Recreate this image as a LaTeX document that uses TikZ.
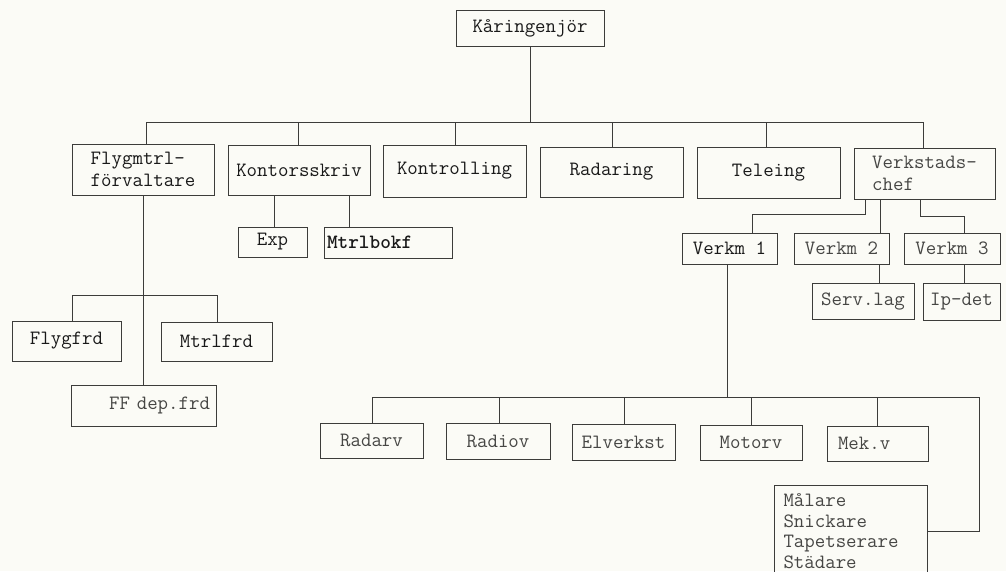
\documentclass[tikz,border=0pt]{standalone}
\definecolor{bgc}{RGB}{251,251,246}
\definecolor{linec}{RGB}{60,60,58}
\definecolor{txtd}{RGB}{25,25,25}
\definecolor{txtl}{RGB}{70,70,68}
\begin{document}
\begin{tikzpicture}[x=1pt,y=-1pt,
  box/.style={draw=linec, line width=0.9pt, inner sep=0pt, text=txtd,
              font=\ttfamily\fontsize{20.3}{21.5}\selectfont},
  light/.style={text=txtl},
  conn/.style={draw=linec, line width=0.9pt}]
\fill[bgc] (0,0) rectangle (1006,571);
\useasboundingbox (0,0) rectangle (1006,571);

% level 1
\node[box, minimum width=148pt, minimum height=36pt] (kar) at (530,28) {Kåringenjör};
% level 2
\node[box, minimum width=142pt, minimum height=51pt, align=left] (flyg) at (143,169.5) {Flygmtrl-\\förvaltare};
\node[box, minimum width=142pt, minimum height=50pt] (kont) at (299,170) {Kontorsskriv};
\node[box, minimum width=143pt, minimum height=52pt] (ktrl) at (454.5,171) {Kontrolling};
\node[box, minimum width=143pt, minimum height=50pt] (rad) at (611.5,172) {Radaring};
\node[box, minimum width=143pt, minimum height=51pt] (tele) at (768.5,172.5) {Teleing};
\node[box, light, minimum width=141pt, minimum height=51pt, align=left] (verk) at (924.5,173.5) {Verkstads-\\chef};
% under Kontorsskriv
\node[box, minimum width=69pt, minimum height=30pt] (exp) at (272.5,242) {Exp};
\node[box, inner xsep=3pt, text width=122pt, align=left, minimum height=31pt, font=\ttfamily\bfseries\fontsize{20.3}{21.5}\selectfont] (mbok) at (388,242.5) {Mtrlbokf};
% under Verkstadschef
\node[box, minimum width=95pt, minimum height=31pt] (v1) at (729.5,248.5) {Verkm 1};
\node[box, light, minimum width=95pt, minimum height=31pt] (v2) at (841.5,248.5) {Verkm 2};
\node[box, light, minimum width=96pt, minimum height=31pt] (v3) at (952,248.5) {Verkm 3};
\node[box, light, minimum width=102pt, minimum height=36pt] (serv) at (863,301) {Serv.lag};
\node[box, light, minimum width=77pt, minimum height=37pt] (ip) at (961.5,301.5) {Ip-det};
% under Verkm 1
\node[box, light, minimum width=103pt, minimum height=35pt] (radarv) at (371.5,440.5) {Radarv};
\node[box, light, minimum width=104pt, minimum height=36pt] (radiov) at (498,441) {Radiov};
\node[box, light, minimum width=103pt, minimum height=36pt] (elv) at (623.5,442) {Elverkst};
\node[box, light, minimum width=102pt, minimum height=35pt] (motorv) at (751,442.5) {Motorv};
\node[box, light, inner xsep=11pt, text width=79pt, align=left, minimum height=35pt] (mekv) at (877.5,443.5) {Mek.v};
\node[box, light, inner xsep=9pt, text width=135pt, align=left, minimum height=92pt,
      font=\ttfamily\fontsize{20.3}{20.5}\selectfont] (mal) at (851,531) {Målare\\Snickare\\Tapetserare\\Städare};
% under Flygmtrl
\node[box, minimum width=109pt, minimum height=40pt] (flygfrd) at (66.5,341) {Flygfrd};
\node[box, minimum width=111pt, minimum height=39pt] (mtrlfrd) at (216.5,341.5) {Mtrlfrd};
\node[box, light, inner xsep=6pt, text width=133pt, align=right, minimum height=41pt] (ffdep) at (143.5,405.5) {FF dep.frd};

% main bus
\coordinate (b1) at (146,122);
\coordinate (b2) at (298,122);
\coordinate (b3) at (455,122);
\coordinate (b4) at (612,122);
\coordinate (b5) at (766,122);
\coordinate (b6) at (923,122);
\draw[conn] (b1) -- (b6);
\draw[conn] (kar.south) -- (kar.south |- b1);
\foreach \b/\n in {b1/flyg,b2/kont,b3/ktrl,b4/rad,b5/tele,b6/verk}
  \draw[conn] (\b) -- (\b |- \n.north);

% Kontorsskriv children
\coordinate (k1) at (274,211);
\coordinate (k2) at (349,211);
\draw[conn] (k1 |- kont.south) -- (k1 |- exp.north);
\draw[conn] (k2 |- kont.south) -- (k2 |- mbok.north);

% Verkstadschef children
\coordinate (vc1) at (865,214);
\coordinate (vc1b) at (752,214);
\draw[conn] (vc1 |- verk.south) -- (vc1) -- (vc1b) -- (vc1b |- v1.north);
\coordinate (vc2) at (880,214);
\draw[conn] (vc2 |- verk.south) -- (vc2 |- v2.north);
\coordinate (vc3) at (920,216);
\coordinate (vc3b) at (964,216);
\draw[conn] (vc3 |- verk.south) -- (vc3) -- (vc3b) -- (vc3b |- v3.north);
\coordinate (s1) at (879,274);
\draw[conn] (s1 |- v2.south) -- (s1 |- serv.north);
\coordinate (s2) at (964,274);
\draw[conn] (s2 |- v3.south) -- (s2 |- ip.north);

% Verkm 1 children
\coordinate (w0) at (727,397);
\coordinate (wL) at (372,397);
\coordinate (wR) at (979,397);
\coordinate (w2) at (499,397);
\coordinate (w3) at (624,397);
\coordinate (w4) at (751,397);
\coordinate (w5) at (877,397);
\draw[conn] (w0 |- v1.south) -- (w0);
\draw[conn] (wL) -- (wR) -- (wR |- mal.east) -- (mal.east);
\foreach \b/\n in {wL/radarv,w2/radiov,w3/elv,w4/motorv,w5/mekv}
  \draw[conn] (\b) -- (\b |- \n.north);

% Flygmtrl children
\coordinate (f0) at (143,295);
\coordinate (fL) at (72,295);
\coordinate (fR) at (217,295);
\draw[conn] (f0 |- flyg.south) -- (f0 |- ffdep.north);
\draw[conn] (fL |- flygfrd.north) -- (fL) -- (fR) -- (fR |- mtrlfrd.north);
\end{tikzpicture}
\end{document}
